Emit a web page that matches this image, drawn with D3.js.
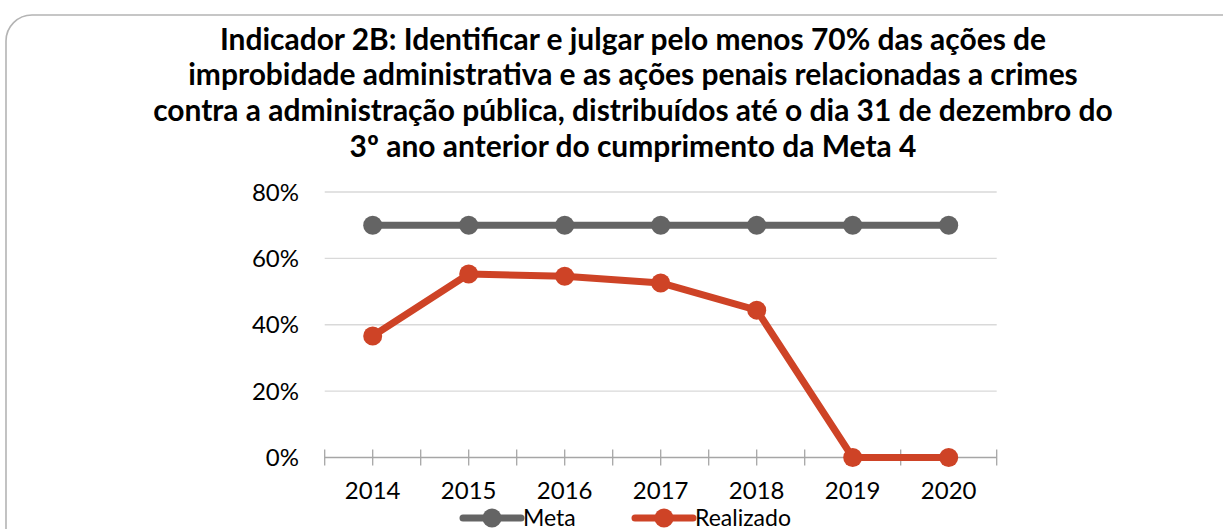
<!DOCTYPE html>
<html>
<head>
<meta charset="utf-8">
<script src="https://cdn.jsdelivr.net/npm/d3@7"></script>
<style>
  html, body { margin: 0; padding: 0; background: #fff; }
  svg { display: block; }
</style>
</head>
<body>
<svg id="chart" width="1223" height="529"></svg>
<script>
"use strict";

// Data
const years = ["2014", "2015", "2016", "2017", "2018", "2019", "2020"];
const meta = [70, 70, 70, 70, 70, 70, 70];
const realizado = [36.6, 55.3, 54.6, 52.6, 44.4, 0, 0];
const yTicks = [0, 20, 40, 60, 80];
const titleLines = [
    "Indicador 2B: Identificar e julgar pelo menos 70% das ações de",
    "improbidade administrativa e as ações penais relacionadas a crimes",
    "contra a administração pública, distribuídos até o dia 31 de dezembro do",
    "3º ano anterior do cumprimento da Meta 4"
];
const seriesNames = ["Meta", "Realizado"];
const seriesColors = ["#646464", "#ce4326"];

const font = "Lato, 'Open Sans', sans-serif";
const svg = d3.select("#chart");

// Frame with rounded corner (runs off the right and bottom edges)
svg.append("rect")
    .attr("x", 6).attr("y", 15)
    .attr("width", 1260).attr("height", 560)
    .attr("rx", 26).attr("ry", 26)
    .attr("fill", "none")
    .attr("stroke", "#b4b4b4")
    .attr("stroke-width", 1.6);

// Title
const title = svg.append("text")
    .attr("font-family", font)
    .attr("font-weight", "bold")
    .attr("font-size", 28)
    .attr("fill", "#000")
    .attr("text-anchor", "middle");
titleLines.forEach((t, i) => {
    title.append("tspan")
        .attr("x", 633)
        .attr("y", 49.5 + i * 35.7)
        .text(t);
});
// fit the longest line to its width in the reference
const longest = title.selectAll("tspan").nodes()[2];
const w = longest.getComputedTextLength();
title.attr("font-size", 28 * 960 / w);

// Scales
const margin = { left: 324.7, right: 996.7, top: 192, bottom: 457.5 };
const x = d3.scaleBand().domain(years).range([margin.left, margin.right]);
const y = d3.scaleLinear().domain([0, 80]).range([margin.bottom, margin.top]);

// Gridlines
svg.append("g")
    .selectAll("line")
    .data(yTicks.filter(d => d > 0))
    .join("line")
    .attr("x1", margin.left).attr("x2", margin.right)
    .attr("y1", d => y(d)).attr("y2", d => y(d))
    .attr("stroke", "#d9d9d9")
    .attr("stroke-width", 1.3);

// Y axis labels
svg.append("g")
    .selectAll("text")
    .data(yTicks)
    .join("text")
    .attr("x", 299)
    .attr("y", d => y(d))
    .attr("dy", "0.36em")
    .attr("text-anchor", "end")
    .attr("font-family", font)
    .attr("font-size", 24)
    .attr("fill", "#000")
    .text(d => d + "%");

// X axis line with crossing ticks at bands and centers
const xAxis = svg.append("g");
xAxis.append("line")
    .attr("x1", margin.left).attr("x2", margin.right)
    .attr("y1", y(0)).attr("y2", y(0))
    .attr("stroke", "#a6a6a6").attr("stroke-width", 1.3);
const tickXs = [];
years.forEach(d => { tickXs.push(x(d)); tickXs.push(x(d) + x.bandwidth() / 2); });
tickXs.push(margin.right);
xAxis.selectAll("line.tick")
    .data(tickXs)
    .join("line")
    .attr("class", "tick")
    .attr("x1", d => d).attr("x2", d => d)
    .attr("y1", y(0) - 8).attr("y2", y(0) + 8)
    .attr("stroke", "#a6a6a6").attr("stroke-width", 1.3);
xAxis.selectAll("text")
    .data(years)
    .join("text")
    .attr("x", d => x(d) + x.bandwidth() / 2)
    .attr("y", 499)
    .attr("text-anchor", "middle")
    .attr("font-family", font)
    .attr("font-size", 24)
    .attr("fill", "#000")
    .text(d => d);

// Series
const line = d3.line()
    .x((d, i) => x(years[i]) + x.bandwidth() / 2)
    .y(d => y(d));

[meta, realizado].forEach((vals, si) => {
    const g = svg.append("g");
    g.append("path")
        .datum(vals)
        .attr("d", line)
        .attr("fill", "none")
        .attr("stroke", seriesColors[si])
        .attr("stroke-width", 7)
        .attr("stroke-linejoin", "round");
    g.selectAll("circle")
        .data(vals)
        .join("circle")
        .attr("cx", (d, i) => x(years[i]) + x.bandwidth() / 2)
        .attr("cy", d => y(d))
        .attr("r", 9.5)
        .attr("fill", seriesColors[si]);
});

// Legend
const legendX = [463, 635];
const legend = svg.append("g");
seriesNames.forEach((name, i) => {
    const lg = legend.append("g").attr("transform", `translate(${legendX[i]},518)`);
    lg.append("line")
        .attr("x1", 0).attr("x2", 58)
        .attr("stroke", seriesColors[i])
        .attr("stroke-width", 7)
        .attr("stroke-linecap", "round");
    lg.append("circle")
        .attr("cx", 29).attr("r", 9.5)
        .attr("fill", seriesColors[i]);
    lg.append("text")
        .attr("x", 60)
        .attr("y", 7.5)
        .attr("font-family", font)
        .attr("font-size", 23)
        .attr("fill", "#000")
        .text(name);
});
</script>
</body>
</html>
